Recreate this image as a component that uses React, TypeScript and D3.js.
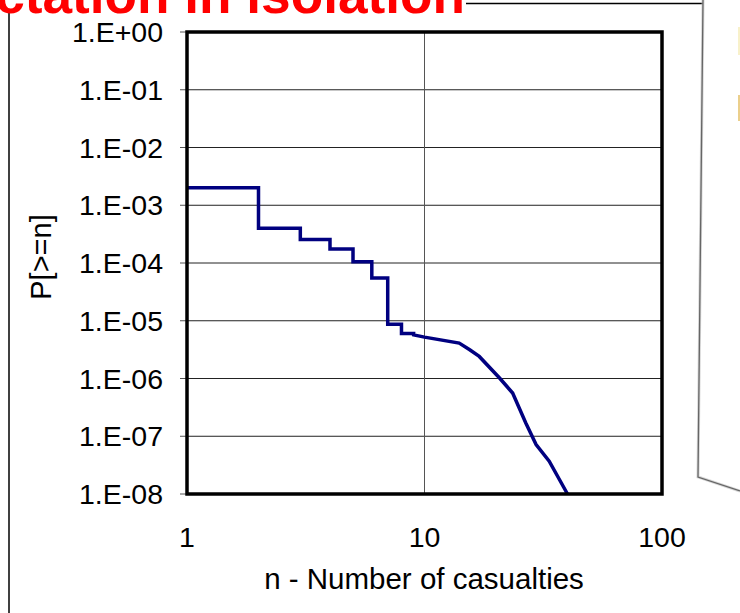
import React from "react";
import * as d3 from "d3";

const stepN = [1, 2, 3, 4, 5, 6, 7, 8, 9];
const stepP = [2.0e-3, 4.0e-4, 2.55e-4, 1.74e-4, 1.05e-4, 5.5e-5, 8.7e-6, 6.0e-6, 5.7e-6];
const tailN = [9, 10, 14, 15.5, 17, 20.7, 23.5, 26.7, 29.5, 33.5, 40];
const tailP = [5.7e-6, 5.2e-6, 4.1e-6, 3.15e-6, 2.41e-6, 1.02e-6, 5.6e-7, 1.7e-7, 7.2e-8, 3.7e-8, 1.0e-8];

const yTicks = [1, 1e-1, 1e-2, 1e-3, 1e-4, 1e-5, 1e-6, 1e-7, 1e-8];
const yTickLabels = ["1.E+00", "1.E-01", "1.E-02", "1.E-03", "1.E-04", "1.E-05", "1.E-06", "1.E-07", "1.E-08"];
const xTicks = [1, 10, 100];
const xTickLabels = ["1", "10", "100"];

const title = "Expectation in isolation";
const xTitle = "n - Number of casualties";
const yTitle = "P[>=n]";

const W = 740;
const H = 613;
const plot = { left: 187, right: 662, top: 32, bottom: 494 };
const FONT = "Liberation Sans, Arial, sans-serif";

export default function App() {
  const x = d3.scaleLog().domain([1, 100]).range([plot.left, plot.right]);
  const y = d3.scaleLog().domain([1e-8, 1]).range([plot.bottom, plot.top]);

  const stepPts: [number, number][] = stepN.map((n, i) => [n, stepP[i]]);
  const tailPts: [number, number][] = tailN.map((n, i) => [n, tailP[i]]);
  const stepLine = d3
    .line<[number, number]>()
    .x((d) => x(d[0]))
    .y((d) => y(d[1]))
    .curve(d3.curveStepAfter);
  const tailLine = d3
    .line<[number, number]>()
    .x((d) => x(d[0]))
    .y((d) => y(d[1]));
  const pathD = (stepLine(stepPts) || "") + (tailLine(tailPts) || "").replace(/^M/, "L");

  return (
    <div style={{ position: "fixed", left: 0, top: 0, width: W, height: H, background: "#fff" }}>
      <svg width={W} height={H} style={{ display: "block", fontFamily: FONT }}>
        <rect x={0} y={0} width={W} height={H} fill="#fff" />
        {/* outer slide frame */}
        <line x1={9} y1={3.5} x2={703} y2={3.5} stroke="#000" strokeWidth={1.5} />
        <line x1={9} y1={3} x2={9} y2={H} stroke="#000" strokeWidth={1.5} />
        {/* page-curl gray line */}
        <polyline
          points="703,0 698,477 740,491"
          fill="none"
          stroke="#bbb"
          strokeWidth={3}
          opacity={0.6}
        />
        <polyline points="703,0 698,477 740,491" fill="none" stroke="#666" strokeWidth={1.3} />
        <rect x={738} y={27} width={2} height={28} fill="#f3e7a6" opacity={0.6} />
        <rect x={738} y={95} width={2} height={26} fill="#e2bb5a" opacity={0.7} />

        {/* title with white background */}
        <rect x={0} y={0} width={466} height={12} fill="#fff" />
        <text
          x={465}
          y={13}
          textAnchor="end"
          fill="#ff0000"
          fontWeight="bold"
          fontSize={53.2}
          fontFamily={FONT}
        >
          {title}
        </text>

        {/* gridlines */}
        {yTicks.map((t, i) => (
          <line
            key={"gy" + i}
            x1={plot.left}
            x2={plot.right}
            y1={y(t)}
            y2={y(t)}
            stroke="#222"
            strokeWidth={1}
          />
        ))}
        {xTicks.map((t, i) => (
          <line
            key={"gx" + i}
            x1={x(t)}
            x2={x(t)}
            y1={plot.top}
            y2={plot.bottom}
            stroke="#555"
            strokeWidth={1}
          />
        ))}

        {/* y ticks */}
        {yTicks.map((t, i) => (
          <line
            key={"ty" + i}
            x1={plot.left - 7}
            x2={plot.left}
            y1={y(t)}
            y2={y(t)}
            stroke="#555"
            strokeWidth={1}
          />
        ))}

        {/* data line */}
        <path d={pathD} fill="none" stroke="#000080" strokeWidth={3.5} strokeLinejoin="miter" />

        {/* plot border */}
        <rect
          x={plot.left}
          y={plot.top}
          width={plot.right - plot.left}
          height={plot.bottom - plot.top}
          fill="none"
          stroke="#000"
          strokeWidth={3.5}
        />

        {/* y tick labels */}
        {yTicks.map((t, i) => (
          <text
            key={"ly" + i}
            x={163}
            y={y(t)}
            textAnchor="end"
            dominantBaseline="central"
            fontSize={28.5}
            fill="#000"
          >
            {yTickLabels[i]}
          </text>
        ))}
        {/* x tick labels */}
        {xTicks.map((t, i) => (
          <text
            key={"lx" + i}
            x={x(t)}
            y={537}
            textAnchor="middle"
            dominantBaseline="central"
            fontSize={28.5}
            fill="#000"
          >
            {xTickLabels[i]}
          </text>
        ))}

        {/* axis titles */}
        <text x={424} y={589} textAnchor="middle" fontSize={29.5} fill="#000">
          {xTitle}
        </text>
        <text
          transform={`translate(41,257) rotate(-90)`}
          textAnchor="middle"
          dominantBaseline="central"
          fontSize={29}
          fill="#000"
        >
          {yTitle}
        </text>
      </svg>
    </div>
  );
}
